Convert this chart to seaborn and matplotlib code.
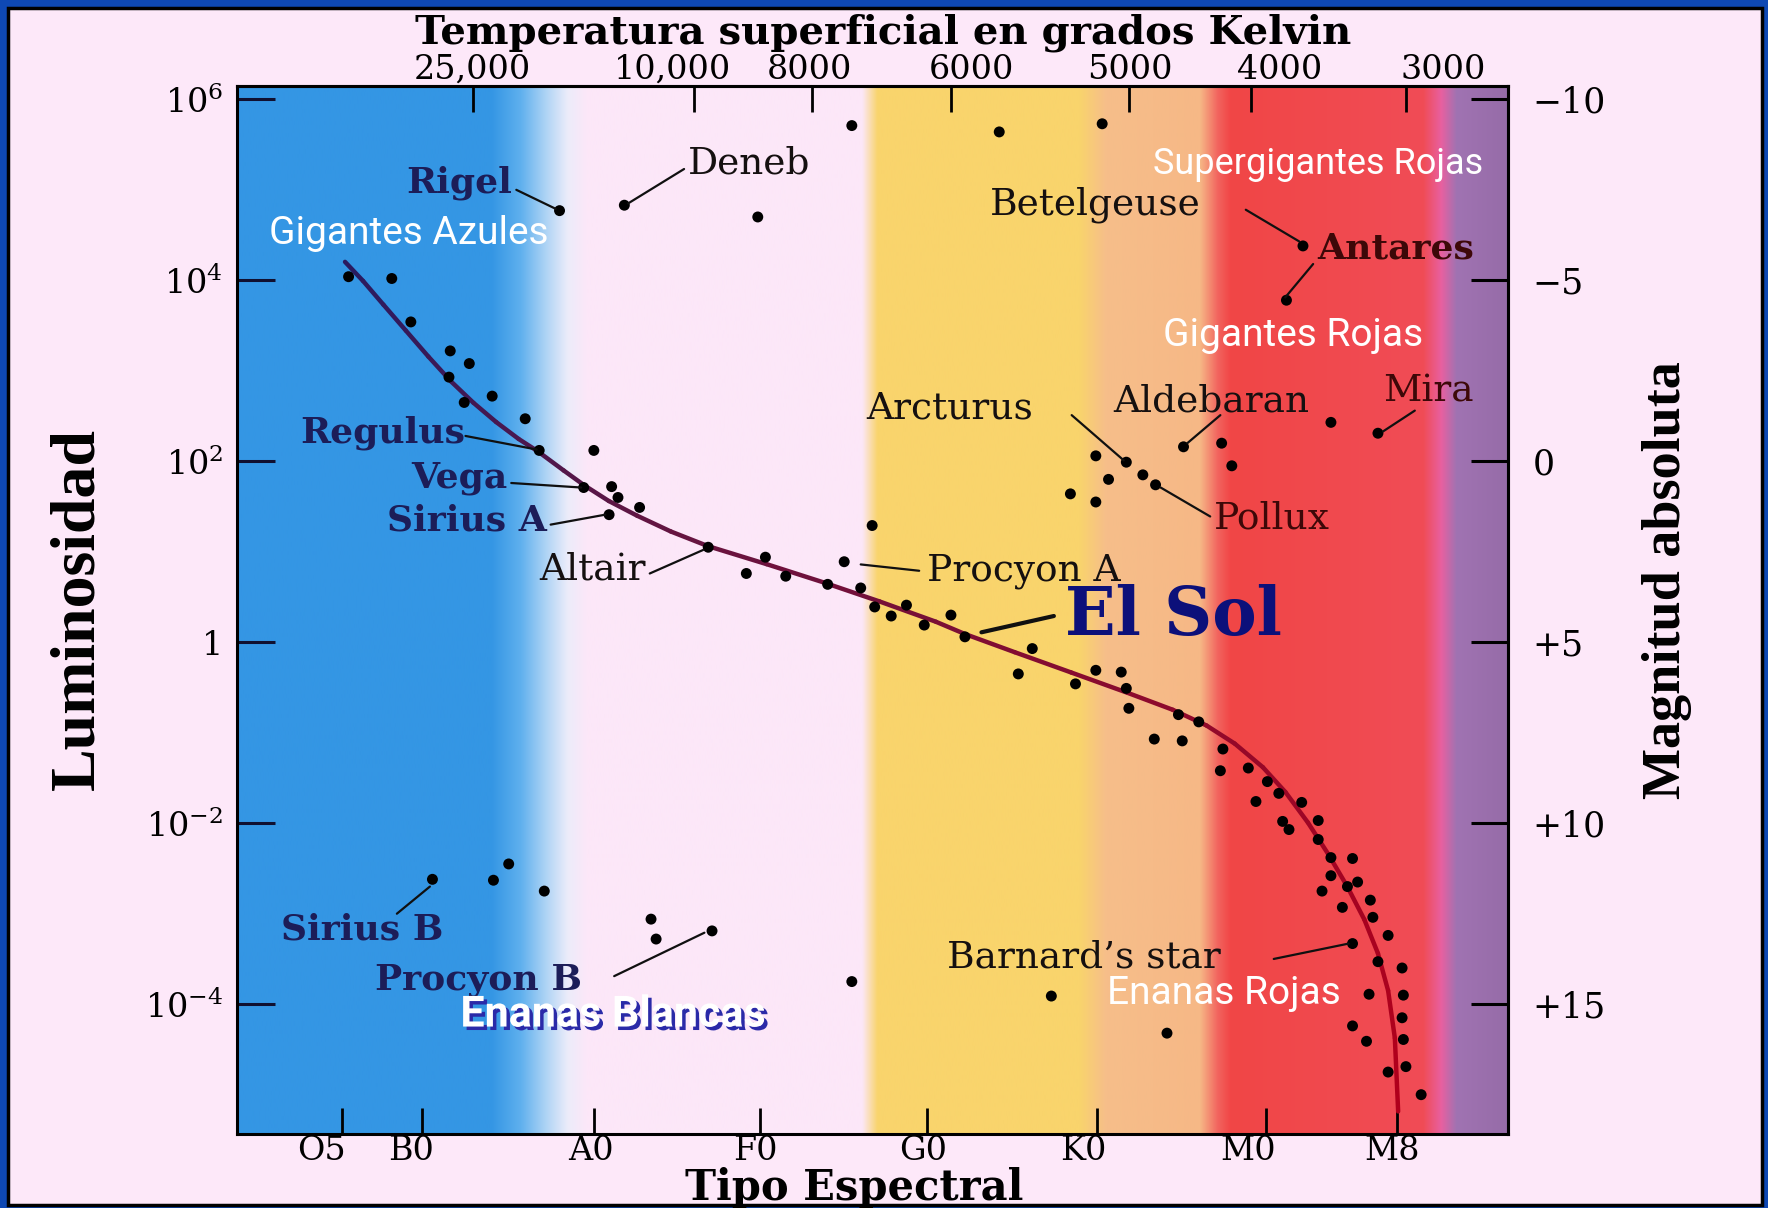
import numpy as np
import pandas as pd
import matplotlib
matplotlib.use("Agg")
import matplotlib.pyplot as plt
import seaborn as sns
from matplotlib.collections import LineCollection
from matplotlib.patches import Rectangle
from matplotlib.colors import LinearSegmentedColormap
import matplotlib.patheffects as pe

# ---------------- data ----------------
spectral_tick_pos = [8.25, 14.6, 28.1, 41.2, 54.3, 67.7, 81.0, 91.3]
spectral_label_pos = [6.7, 13.7, 27.9, 40.8, 54.0, 66.6, 79.6, 90.9]
spectral_labels = ["O5", "B0", "A0", "F0", "G0", "K0", "M0", "M8"]

temp_tick_pos = [18.6, 36.0, 45.3, 56.2, 70.2, 79.8, 92.0]
temp_label_pos = [18.5, 34.3, 45.1, 57.8, 70.3, 82.1, 94.9]
temp_labels = ["25,000", "10,000", "8000", "6000", "5000", "4000", "3000"]

lum_ticks = [6, 4, 2, 0, -2, -4]
lum_labels = [r"$10^6$", r"$10^4$", r"$10^2$", "1", r"$10^{-2}$", r"$10^{-4}$"]

mag_ticks = [-10, -5, 0, 5, 10, 15]
mag_labels = ["\u221210", "\u22125", "0", "+5", "+10", "+15"]

# giants / supergiants (x = spectral position, y = log10 L/Lsun)
giant_x = [48.4, 60.0, 68.1, 25.4, 30.5, 41.0, 83.9, 82.6,
           74.5, 77.5, 78.3, 86.1, 89.8,
           67.6, 70.0, 68.6, 71.3, 72.3, 65.6, 67.6]
giant_logL = [5.71, 5.64, 5.73, 4.77, 4.83, 4.70, 4.38, 3.78,
              2.16, 2.20, 1.95, 2.43, 2.31,
              2.06, 1.99, 1.80, 1.85, 1.74, 1.64, 1.55]

# main-sequence stars
ms_x = [8.8, 12.2, 13.7, 16.8, 18.3, 16.7, 20.1, 17.9, 22.7,
        23.8, 28.1, 27.3, 29.5, 30.0, 31.7, 29.3, 50.0,
        37.1, 41.6, 40.1, 43.2, 46.5, 47.8, 49.1, 50.2, 51.5, 52.7, 54.1, 56.2,
        57.3, 62.6, 61.5, 66.0, 67.6, 69.6, 70.0, 70.2, 74.1, 75.7, 72.2, 74.4,
        77.6, 77.4, 79.6, 81.1, 82.0,
        80.2, 83.8, 82.3, 82.8, 85.1, 85.1, 86.1, 87.8, 86.1, 85.4, 87.4, 88.2,
        87.0, 89.2, 89.4, 90.6, 87.8, 89.8, 91.7, 89.1, 91.8, 91.7, 87.8, 88.9,
        91.8, 90.6, 92.0, 93.2, 64.1, 73.2]
ms_logL = [4.04, 4.02, 3.54, 3.22, 3.08, 2.93, 2.72, 2.65, 2.47,
           2.12, 2.12, 1.71, 1.72, 1.60, 1.49, 1.41, 1.29,
           1.05, 0.94, 0.76, 0.73, 0.64, 0.89, 0.60, 0.39, 0.29, 0.41, 0.19, 0.30,
           0.06, -0.07, -0.35, -0.46, -0.31, -0.33, -0.51, -0.73, -0.80, -0.88, -1.07, -1.09,
           -1.18, -1.42, -1.39, -1.54, -1.67,
           -1.76, -1.77, -1.98, -2.07, -1.97, -2.18, -2.38, -2.39, -2.58, -2.75, -2.70, -2.65,
           -2.93, -2.85, -3.04, -3.24, -3.33, -3.53, -3.60, -3.89, -3.90, -4.15, -4.24, -4.41,
           -4.39, -4.75, -4.69, -5.00, -3.91, -4.32]

# white dwarfs
wd_x = [15.4, 20.2, 21.4, 24.2, 32.6, 33.0, 37.4, 48.4]
wd_logL = [-2.62, -2.63, -2.45, -2.75, -3.06, -3.28, -3.19, -3.75]

# main-sequence line
seq_x = [8.52, 9.94, 11.54, 13.31, 15.08, 16.86, 18.63, 20.41, 22.18, 23.69,
         25.73, 27.33, 29.28, 31.50, 34.16, 37.09, 41.70, 46.14, 50.58, 55.01,
         57.32, 61.22, 65.66, 70.10, 73.65, 76.31, 78.53, 80.75, 82.52, 84.29,
         85.89, 87.40, 88.73, 89.80, 90.60, 91.13, 91.39]
seq_logL = [4.204, 3.993, 3.731, 3.444, 3.157, 2.883, 2.646, 2.434, 2.247, 2.110,
            1.898, 1.736, 1.561, 1.399, 1.224, 1.062, 0.863, 0.663, 0.451, 0.227,
            0.090, -0.110, -0.334, -0.559, -0.746, -0.920, -1.120, -1.382, -1.656, -1.993,
            -2.342, -2.703, -3.065, -3.439, -3.850, -4.374, -5.185]

stars = pd.DataFrame({
    "x": giant_x + ms_x + wd_x,
    "logL": giant_logL + ms_logL + wd_logL,
})

# ---------------- figure ----------------
sns.set_theme(style="white")
plt.rcParams["font.family"] = ["DejaVu Serif"]
plt.rcParams["mathtext.fontset"] = "dejavuserif"
for k in ["text.color", "xtick.color", "ytick.color", "xtick.labelcolor", "ytick.labelcolor"]:
    plt.rcParams[k] = "black"

W, H = 1768, 1208
fig = plt.figure(figsize=(W / 100, H / 100), dpi=100, facecolor="#0e48b4")
frame = Rectangle((8 / W, 3 / H), (1762 - 8) / W, (1200 - 3) / H,
                  transform=fig.transFigure, facecolor="#fde8f9",
                  edgecolor="black", linewidth=2.5, zorder=-10)
fig.patches.append(frame)

ax = fig.add_axes([0.1339, 0.0616, 0.7188, 0.8674])
ax.set_zorder(1)
ylo, yhi = -5.43, 6.15
ax.set_xlim(0, 100)
ax.set_ylim(ylo, yhi)

# coloured spectral bands
stops = [(0, (52, 150, 228)), (20.0, (52, 150, 228)), (22.3, (95, 176, 238)),
         (24.3, (175, 212, 245)), (26.0, (236, 236, 250)), (27.5, (252, 231, 248)),
         (49.2, (252, 231, 248)), (50.4, (249, 212, 108)), (66.3, (249, 212, 108)),
         (68.4, (246, 190, 138)), (75.8, (246, 184, 134)), (77.2, (242, 100, 95)),
         (78.2, (241, 70, 70)), (93.4, (240, 76, 86)), (94.8, (232, 96, 160)),
         (96.0, (160, 115, 178)), (100, (150, 108, 168))]
sx = np.array([s[0] for s in stops])
sc = np.array([s[1] for s in stops]) / 255.0
xs = np.linspace(0, 100, 1000)
img = np.stack([np.interp(xs, sx, sc[:, k]) for k in range(3)], axis=-1)[None, :, :]
ax.imshow(img, extent=[0, 100, ylo, yhi], aspect="auto", zorder=0,
          interpolation="bilinear")

# main sequence curve with colour gradient
pts = np.column_stack([seq_x, seq_logL])
segs = np.stack([pts[:-1], pts[1:]], axis=1)
cmap = LinearSegmentedColormap.from_list("ms", ["#2a1b60", "#5c1645", "#8e0a2c", "#b0001c"])
lc = LineCollection(segs, cmap=cmap, linewidth=3.2, zorder=2, capstyle="round",
                    joinstyle="round")
lc.set_array(np.linspace(0, 1, len(segs)))
ax.add_collection(lc)

sns.scatterplot(data=stars, x="x", y="logL", color="black", s=62,
                edgecolor="none", ax=ax, zorder=3, legend=False)

# ---------------- axes ----------------
for sp in ax.spines.values():
    sp.set_color("black")
    sp.set_linewidth(2.2)
    sp.set_zorder(5)

ax.set_yticks(lum_ticks, lum_labels)
ax.tick_params(axis="y", direction="in", length=27, width=2.2, pad=10,
               labelsize=24, color="#101030", left=True, right=False)

ax.set_xticks(spectral_tick_pos, [""] * len(spectral_tick_pos))
ax.set_xticks(spectral_label_pos, spectral_labels, minor=True)
ax.tick_params(axis="x", which="major", direction="in", length=19, width=2.0,
               bottom=True, top=False)
ax.tick_params(axis="x", which="minor", length=0, pad=1, labelsize=24, bottom=True)
ax.set_xlabel("")
ax.set_ylabel("")

sec_top = ax.secondary_xaxis("top")
sec_top.set_xticks(temp_tick_pos, [""] * len(temp_tick_pos))
sec_top.set_xticks(temp_label_pos, temp_labels, minor=True)
sec_top.tick_params(axis="x", which="major", direction="in", length=19, width=2.0)
sec_top.tick_params(axis="x", which="minor", length=0, pad=0, labelsize=24)
sec_top.spines["top"].set_linewidth(2.2)

sec_right = ax.secondary_yaxis("right", functions=(lambda y: 5 - 2.5 * y,
                                                   lambda m: (5 - m) / 2.5))
sec_right.set_yticks(mag_ticks, mag_labels)
sec_right.tick_params(axis="y", direction="in", length=27, width=2.2, pad=18,
                      labelsize=25)
sec_right.spines["right"].set_linewidth(2.2)

# axis titles
fig.text(0.4994, 1 - 43 / H, "Temperatura superficial en grados Kelvin",
         ha="center", va="baseline", fontsize=29, fontweight="bold")
fig.text(0.4834, 1 - 1200 / H, "Tipo Espectral", ha="center", va="baseline",
         fontsize=30, fontweight="bold")
fig.text(0.0446, 0.4958, "Luminosidad", rotation=90, ha="center", va="center",
         fontsize=46, fontweight="bold", family=["Liberation Serif", "DejaVu Serif"])
fig.text(0.9426, 0.520, "Magnitud absoluta", rotation=90, ha="center", va="center",
         fontsize=39, fontweight="bold", family=["Liberation Serif", "DejaVu Serif"])

# ---------------- annotations ----------------
white_family = ["Roboto", "DejaVu Sans"]
styles = {
    "navy": dict(color="#1c1d58", fontweight="bold", fontsize=26),
    "plain": dict(color="#151010", fontsize=27),
    "maroon": dict(color="#3d0808", fontsize=27),
    "maroonb": dict(color="#3d0808", fontsize=26, fontweight="bold"),
    "white": dict(color="white", fontsize=28, family=white_family),
    "whites": dict(color="white", fontsize=26, family=white_family),
}
labels = [
    ("Rigel", 21.7, 5.08, "right", "navy"),
    ("Deneb", 35.5, 5.29, "left", "plain"),
    ("Gigantes Azules", 2.5, 4.52, "left", "white"),
    ("Supergigantes Rojas", 72.1, 5.29, "left", "whites"),
    ("Betelgeuse", 59.3, 4.84, "left", "plain"),
    ("Antares", 85.0, 4.35, "left", "maroonb"),
    ("Gigantes Rojas", 72.9, 3.39, "left", "white"),
    ("Mira", 90.2, 2.77, "left", "maroon"),
    ("Aldebaran", 69.0, 2.66, "left", "plain"),
    ("Arcturus", 49.5, 2.58, "left", "plain"),
    ("Pollux", 76.9, 1.37, "left", "maroon"),
    ("Regulus", 18.0, 2.31, "right", "navy"),
    ("Vega", 21.3, 1.81, "right", "navy"),
    ("Sirius A", 24.4, 1.35, "right", "navy"),
    ("Altair", 32.2, 0.80, "right", "plain"),
    ("Procyon A", 54.3, 0.79, "left", "plain"),
    ("Sirius B", 3.5, -3.18, "left", "navy"),
    ("Procyon B", 10.9, -3.73, "left", "navy"),
    ("Barnard\u2019s star", 55.9, -3.48, "left", "plain"),
    ("Enanas Rojas", 68.5, -3.88, "left", "white"),
]
for txt, tx, ty, ha, st in labels:
    ax.text(tx, ty, txt, ha=ha, va="center", zorder=6, **styles[st])

ax.text(17.6, -4.12, "Enanas Blancas", ha="left", va="center", zorder=6,
        color="white", fontsize=31, fontweight="bold", family=white_family,
        path_effects=[pe.SimplePatchShadow(offset=(2.5, -2.5), shadow_rgbFace="#2a2aa8", alpha=1.0),
                      pe.Normal()])
ax.text(65.2, 0.29, "El Sol", ha="left", va="center", zorder=6,
        color="#0c107a", fontsize=48, fontweight="bold")

leaders = [
    ((22.0, 5.00), (25.1, 4.79)),
    ((35.2, 5.23), (30.8, 4.85)),
    ((79.4, 4.78), (83.6, 4.43)),
    ((84.7, 4.18), (82.5, 3.81)),
    ((92.7, 2.56), (90.2, 2.33)),
    ((77.4, 2.51), (74.8, 2.20)),
    ((65.7, 2.51), (69.8, 2.01)),
    ((76.6, 1.39), (72.7, 1.71)),
    ((18.0, 2.28), (23.6, 2.13)),
    ((21.6, 1.76), (27.1, 1.71)),
    ((24.7, 1.30), (29.0, 1.41)),
    ((32.5, 0.76), (36.7, 1.02)),
    ((49.1, 0.86), (53.7, 0.79)),
    ((12.6, -3.00), (15.2, -2.70)),
    ((29.7, -3.69), (36.8, -3.21)),
    ((81.6, -3.50), (87.5, -3.33)),
]
for (x0, y0), (x1, y1) in leaders:
    ax.plot([x0, x1], [y0, y1], color="#101010", lw=1.6, zorder=4)
ax.plot([58.6, 64.3], [0.11, 0.29], color="#101010", lw=3.0, zorder=4)

fig.savefig("out.png", dpi=100, facecolor=fig.get_facecolor())
